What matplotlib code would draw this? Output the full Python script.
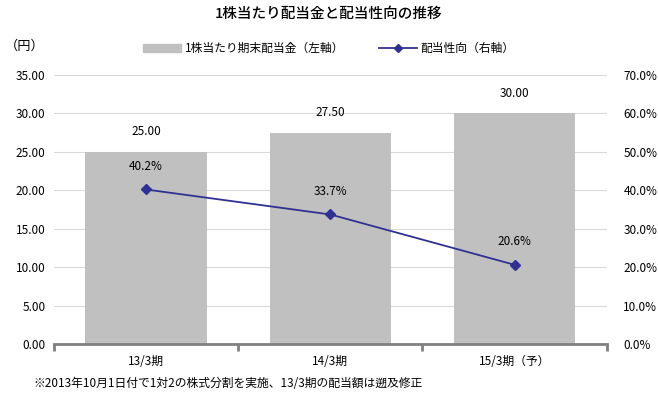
import matplotlib
matplotlib.use('Agg')
import matplotlib.pyplot as plt
import numpy as np

plt.rcParams['font.family'] = ['Noto Sans CJK JP', 'DejaVu Sans']

categories = ['13/3期', '14/3期', '15/3期（予）']
dividends = [25.00, 27.50, 30.00]
payout_ratio = [40.2, 33.7, 20.6]

bar_color = '#c0c0c0'
line_color = '#2e3192'

fig = plt.figure(figsize=(6.58, 3.99), dpi=100)
ax = fig.add_axes([0.082, 0.138, 0.840, 0.674])
ax2 = ax.twinx()

x = np.arange(len(categories))
ax.bar(x, dividends, width=0.66, color=bar_color, zorder=2)
for xi, v in zip(x, dividends):
    ax.annotate(f'{v:.2f}', (xi, v), xytext=(0, 10), textcoords='offset points',
                ha='center', va='bottom', fontsize=8.5)

ax.set_xlim(-0.5, len(categories) - 0.5)
ax.set_ylim(0, 35)
ax.set_yticks(np.arange(0, 36, 5))
ax.set_yticklabels([f'{v:.2f}' for v in np.arange(0, 36, 5)], fontsize=8.5)
ax.grid(axis='y', color='#d9d9d9', linewidth=0.8, zorder=0)
ax.set_axisbelow(True)

ax.set_xticks(x)
ax.set_xticklabels(categories, fontsize=8.5)
ax.tick_params(axis='x', length=0, pad=8)
ax.set_xticks(np.arange(-0.5, len(categories), 1), minor=True)
ax.tick_params(axis='x', which='minor', length=5, width=2, color='#808080', direction='out')
ax.tick_params(axis='y', length=0, pad=6)

for s in ['top', 'left', 'right']:
    ax.spines[s].set_visible(False)
    ax2.spines[s].set_visible(False)
ax.spines['bottom'].set_color('#808080')
ax.spines['bottom'].set_linewidth(2)
ax2.spines['bottom'].set_visible(False)

ax2.plot(x, payout_ratio, color=line_color, marker='D', markersize=5, linewidth=1.3, zorder=3)
for xi, v in zip(x, payout_ratio):
    ax2.annotate(f'{v:.1f}%', (xi, v), xytext=(0, 12), textcoords='offset points',
                 ha='center', va='bottom', fontsize=8.5)
ax2.set_ylim(0, 70)
ax2.set_yticks(np.arange(0, 71, 10))
ax2.set_yticklabels([f'{v:.1f}%' for v in np.arange(0, 71, 10)], fontsize=8.5)
ax2.tick_params(axis='y', length=0, pad=12)

fig.text(0.5, 0.965, '1株当たり配当金と配当性向の推移', ha='center', va='center',
         fontsize=10.5, fontweight='medium')
fig.text(0.008, 0.883, '（円）', ha='left', va='center', fontsize=9.5)

handles = [plt.Rectangle((0, 0), 1, 1, color=bar_color),
           plt.Line2D([0], [0], color=line_color, marker='D', markersize=4, linewidth=1.3)]
fig.legend(handles, ['1株当たり期末配当金（左軸）', '配当性向（右軸）'],
           loc='center', bbox_to_anchor=(0.5, 0.878), ncol=2, frameon=False,
           fontsize=8.5, handlelength=3.2, columnspacing=3, handletextpad=0.3)

fig.text(0.05, 0.04, '※2013年10月1日付で1対2の株式分割を実施、13/3期の配当額は遡及修正',
         ha='left', va='center', fontsize=8.5)

fig.savefig('out.png', dpi=100)
